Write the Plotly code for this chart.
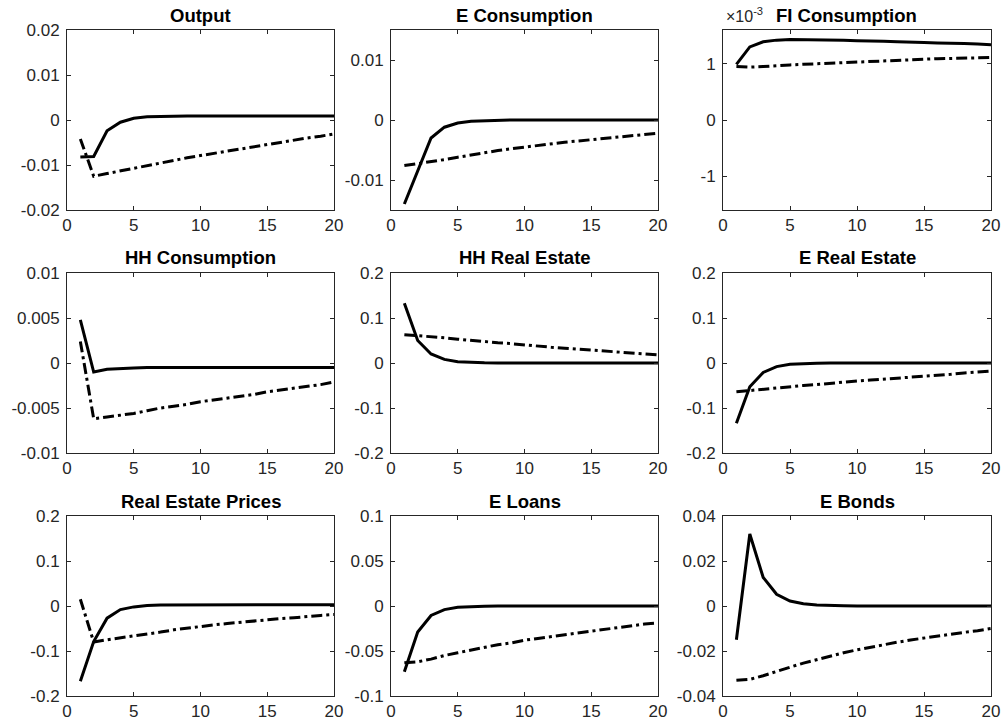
import plotly.graph_objects as go
from plotly.subplots import make_subplots

periods = list(range(1, 21))

titles = ["Output", "E Consumption", "FI Consumption",
          "HH Consumption", "HH Real Estate", "E Real Estate",
          "Real Estate Prices", "E Loans", "E Bonds"]

# solid line series
output_solid = [-0.0082, -0.0081, -0.0024, -0.0005, 0.0004, 0.0007, 0.0008, 0.0009, 0.0009, 0.0009,
                0.0009, 0.0009, 0.0009, 0.0009, 0.0009, 0.0009, 0.0009, 0.0009, 0.0009, 0.0009]
output_dash = [-0.0042, -0.0125, -0.0119, -0.0113, -0.0107, -0.0101, -0.0095, -0.0090, -0.0084, -0.0079,
               -0.0074, -0.0069, -0.0064, -0.0060, -0.0055, -0.0050, -0.0045, -0.0040, -0.0036, -0.0031]

econs_solid = [-0.0140, -0.0085, -0.0030, -0.0012, -0.0005, -0.0002, -0.0001, 0.0, 0.0, 0.0,
               0.0, 0.0, 0.0, 0.0, 0.0, 0.0, 0.0, 0.0, 0.0, 0.0]
econs_dash = [-0.0076, -0.0073, -0.0069, -0.0066, -0.0062, -0.0058, -0.0055, -0.0051, -0.0048, -0.0045,
              -0.0042, -0.0040, -0.0037, -0.0035, -0.0033, -0.0030, -0.0028, -0.0026, -0.0024, -0.0022]

ficons_solid = [0.00099, 0.00130, 0.00139, 0.00142, 0.00143, 0.00143, 0.00143, 0.00142, 0.00142, 0.00141,
                0.00141, 0.00140, 0.00139, 0.00139, 0.00138, 0.00137, 0.00137, 0.00136, 0.00135, 0.00134]
ficons_dash = [0.00095, 0.00094, 0.00095, 0.00097, 0.00098, 0.00099, 0.00100, 0.00102, 0.00103, 0.00104,
               0.00105, 0.00106, 0.00107, 0.001075, 0.00108, 0.00109, 0.001095, 0.00110, 0.001105, 0.00111]

hhcons_solid = [0.0048, -0.0010, -0.0007, -0.0006, -0.00055, -0.0005, -0.0005, -0.0005, -0.0005, -0.0005,
                -0.0005, -0.0005, -0.0005, -0.0005, -0.0005, -0.0005, -0.0005, -0.0005, -0.0005, -0.0005]
hhcons_dash = [0.0024, -0.0062, -0.0060, -0.0058, -0.0056, -0.0053, -0.0050, -0.0048, -0.0046, -0.0043,
               -0.0041, -0.0039, -0.0037, -0.0035, -0.0032, -0.0030, -0.0028, -0.0026, -0.0024, -0.0021]

hhre_solid = [0.133, 0.050, 0.020, 0.008, 0.003, 0.001, 0.0005, 0.0, 0.0, 0.0,
              0.0, 0.0, 0.0, 0.0, 0.0, 0.0, 0.0, 0.0, 0.0, 0.0]
hhre_dash = [0.063, 0.061, 0.058, 0.056, 0.053, 0.050, 0.048, 0.045, 0.043, 0.040,
             0.038, 0.035, 0.033, 0.031, 0.029, 0.027, 0.025, 0.022, 0.020, 0.018]

ere_solid = [-0.134, -0.053, -0.021, -0.008, -0.003, -0.001, -0.0005, 0.0, 0.0, 0.0,
             0.0, 0.0, 0.0, 0.0, 0.0, 0.0, 0.0, 0.0, 0.0, 0.0]
ere_dash = [-0.064, -0.061, -0.058, -0.056, -0.053, -0.050, -0.048, -0.045, -0.043, -0.040,
            -0.038, -0.036, -0.033, -0.031, -0.029, -0.027, -0.025, -0.022, -0.020, -0.018]

rep_solid = [-0.167, -0.079, -0.027, -0.008, -0.002, 0.001, 0.002, 0.002, 0.002, 0.002,
             0.003, 0.003, 0.003, 0.003, 0.003, 0.003, 0.003, 0.003, 0.003, 0.003]
rep_dash = [0.015, -0.080, -0.075, -0.071, -0.067, -0.062, -0.058, -0.053, -0.049, -0.045,
            -0.042, -0.039, -0.036, -0.033, -0.030, -0.028, -0.026, -0.023, -0.021, -0.019]

eloans_solid = [-0.073, -0.029, -0.0105, -0.004, -0.0015, -0.0005, -0.0002, 0.0, 0.0, 0.0,
                0.0, 0.0, 0.0, 0.0, 0.0, 0.0, 0.0, 0.0, 0.0, 0.0]
eloans_dash = [-0.063, -0.062, -0.059, -0.055, -0.052, -0.049, -0.046, -0.043, -0.041, -0.038,
               -0.036, -0.034, -0.032, -0.030, -0.028, -0.026, -0.024, -0.022, -0.020, -0.019]

ebonds_solid = [-0.015, 0.032, 0.0127, 0.0052, 0.0022, 0.0010, 0.0005, 0.0002, 0.0001, 0.0,
                0.0, 0.0, 0.0, 0.0, 0.0, 0.0, 0.0, 0.0, 0.0, 0.0]
ebonds_dash = [-0.0330, -0.0326, -0.0310, -0.0290, -0.0272, -0.0254, -0.0238, -0.0222, -0.0208, -0.0195,
               -0.0183, -0.0171, -0.0161, -0.0151, -0.0142, -0.0133, -0.0125, -0.0117, -0.0110, -0.0100]

solid_series = [output_solid, econs_solid, ficons_solid, hhcons_solid, hhre_solid,
                ere_solid, rep_solid, eloans_solid, ebonds_solid]
dash_series = [output_dash, econs_dash, ficons_dash, hhcons_dash, hhre_dash,
               ere_dash, rep_dash, eloans_dash, ebonds_dash]

y_ranges = [[-0.02, 0.02], [-0.015, 0.015], [-0.0016, 0.0016],
            [-0.01, 0.01], [-0.2, 0.2], [-0.2, 0.2],
            [-0.2, 0.2], [-0.1, 0.1], [-0.04, 0.04]]
y_tickvals = [[-0.02, -0.01, 0, 0.01, 0.02], [-0.01, 0, 0.01], [-0.001, 0, 0.001],
              [-0.01, -0.005, 0, 0.005, 0.01], [-0.2, -0.1, 0, 0.1, 0.2], [-0.2, -0.1, 0, 0.1, 0.2],
              [-0.2, -0.1, 0, 0.1, 0.2], [-0.1, -0.05, 0, 0.05, 0.1], [-0.04, -0.02, 0, 0.02, 0.04]]
y_ticktext = [["-0.02", "-0.01", "0", "0.01", "0.02"], ["-0.01", "0", "0.01"], ["-1", "0", "1"],
              ["-0.01", "-0.005", "0", "0.005", "0.01"], ["-0.2", "-0.1", "0", "0.1", "0.2"],
              ["-0.2", "-0.1", "0", "0.1", "0.2"], ["-0.2", "-0.1", "0", "0.1", "0.2"],
              ["-0.1", "-0.05", "0", "0.05", "0.1"], ["-0.04", "-0.02", "0", "0.02", "0.04"]]
x_tickvals = [0, 5, 10, 15, 20]

W, H = 1005, 726
col_px = [(67, 334), (391, 658), (723, 991)]
row_px = [(30, 210), (273, 453), (516, 696)]

fig = make_subplots(rows=3, cols=3)

AX = "#262626"
FONT = "Liberation Sans, Arial, sans-serif"

for i in range(9):
    r, c = divmod(i, 3)
    fig.add_trace(go.Scatter(x=periods, y=solid_series[i], mode="lines",
                             line=dict(color="black", width=3), showlegend=False),
                  row=r + 1, col=c + 1)
    fig.add_trace(go.Scatter(x=periods, y=dash_series[i], mode="lines",
                             line=dict(color="black", width=3, dash="11px,4px,3px,4px"),
                             showlegend=False),
                  row=r + 1, col=c + 1)
    xd = [col_px[c][0] / W, col_px[c][1] / W]
    yd = [1 - row_px[r][1] / H, 1 - row_px[r][0] / H]
    fig.update_xaxes(domain=xd, range=[0, 20], tickvals=x_tickvals,
                     showline=True, mirror="ticks", linecolor=AX, linewidth=1,
                     ticks="inside", ticklen=4, tickcolor=AX, showgrid=False, zeroline=False,
                     tickfont=dict(family=FONT, size=17, color=AX), automargin=False,
                     row=r + 1, col=c + 1)
    fig.update_yaxes(domain=yd, range=y_ranges[i], tickvals=y_tickvals[i], ticktext=y_ticktext[i],
                     showline=True, mirror="ticks", linecolor=AX, linewidth=1,
                     ticks="inside", ticklen=4, tickcolor=AX, showgrid=False, zeroline=False,
                     tickfont=dict(family=FONT, size=17, color=AX), ticklabelstandoff=3,
                     automargin=False, row=r + 1, col=c + 1)
    cx = (col_px[c][0] + col_px[c][1]) / 2
    if i == 2:
        cx = 846
    fig.add_annotation(text="<b>" + titles[i] + "</b>", x=cx / W, y=1 - (row_px[r][0] - 15) / H,
                       xref="paper", yref="paper", xanchor="center", yanchor="middle",
                       showarrow=False, font=dict(family=FONT, size=18.5, color="black"))

fig.add_annotation(text="\u00d710<sup>-3</sup>", x=724 / W, y=1 - 15 / H, xref="paper", yref="paper",
                   xanchor="left", yanchor="middle", showarrow=False,
                   font=dict(family=FONT, size=16, color=AX))

fig.update_layout(width=W, height=H, margin=dict(l=0, r=0, t=0, b=0),
                  plot_bgcolor="white", paper_bgcolor="white", hovermode=False)

fig.write_html("out.html", config={"displayModeBar": False, "staticPlot": True},
               post_script="document.body.style.margin='0';document.body.style.overflow='hidden';")
